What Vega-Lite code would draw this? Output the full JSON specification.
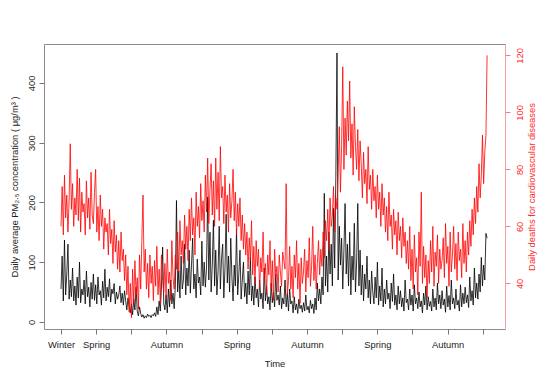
{
  "$schema": "https://vega.github.io/schema/vega-lite/v6.json",
  "width": 461,
  "height": 285,
  "autosize": "none",
  "padding": {"left": 44, "top": 44, "right": 45, "bottom": 56},
  "background": "white",
  "config": {
    "view": {"stroke": "#8c8c8c", "strokeWidth": 1},
    "font": "Liberation Sans",
    "axis": {"grid": false, "labelFont": "Liberation Sans", "titleFont": "Liberation Sans", "labelFontSize": 9.4, "titleFontSize": 9.4, "titleFontWeight": "normal", "tickSize": 5, "labelColor": "#222", "titleColor": "#222", "tickColor": "#777", "domainColor": "#8c8c8c"}
  },
  "data": {"values": [
{"d":0,"pm":55,"cvd":60},{"d":3,"pm":110,"cvd":74},{"d":6,"pm":35,"cvd":57},{"d":9,"pm":137,"cvd":78},{"d":12,"pm":45,"cvd":63},{"d":15,"pm":80,"cvd":71},{"d":18,"pm":130,"cvd":58},{"d":21,"pm":38,"cvd":69},{"d":24,"pm":70,"cvd":89},{"d":27,"pm":42,"cvd":66},
{"d":30,"pm":90,"cvd":75},{"d":33,"pm":35,"cvd":60},{"d":36,"pm":60,"cvd":70},{"d":39,"pm":28,"cvd":64},{"d":42,"pm":75,"cvd":80},{"d":45,"pm":40,"cvd":62},{"d":48,"pm":100,"cvd":77},{"d":51,"pm":32,"cvd":58},{"d":54,"pm":55,"cvd":72},{"d":57,"pm":45,"cvd":65},
{"d":60,"pm":70,"cvd":68},{"d":63,"pm":30,"cvd":57},{"d":66,"pm":85,"cvd":76},{"d":69,"pm":42,"cvd":63},{"d":72,"pm":58,"cvd":70},{"d":75,"pm":25,"cvd":59},{"d":78,"pm":66,"cvd":79},{"d":81,"pm":38,"cvd":64},{"d":84,"pm":80,"cvd":61},{"d":87,"pm":36,"cvd":72},
{"d":90,"pm":62,"cvd":80},{"d":93,"pm":30,"cvd":58},{"d":96,"pm":75,"cvd":67},{"d":99,"pm":45,"cvd":55},{"d":102,"pm":52,"cvd":71},{"d":105,"pm":28,"cvd":60},{"d":108,"pm":68,"cvd":66},{"d":111,"pm":40,"cvd":52},{"d":114,"pm":88,"cvd":63},{"d":117,"pm":35,"cvd":58},
{"d":120,"pm":58,"cvd":61},{"d":123,"pm":42,"cvd":50},{"d":126,"pm":72,"cvd":66},{"d":129,"pm":33,"cvd":54},{"d":132,"pm":55,"cvd":59},{"d":135,"pm":47,"cvd":47},{"d":138,"pm":64,"cvd":62},{"d":141,"pm":30,"cvd":51},{"d":144,"pm":50,"cvd":57},{"d":147,"pm":38,"cvd":45},
{"d":150,"pm":45,"cvd":55},{"d":153,"pm":60,"cvd":44},{"d":156,"pm":32,"cvd":58},{"d":159,"pm":48,"cvd":48},{"d":162,"pm":28,"cvd":52},{"d":165,"pm":52,"cvd":41},{"d":168,"pm":35,"cvd":50},{"d":171,"pm":20,"cvd":36},{"d":174,"pm":40,"cvd":46},{"d":177,"pm":25,"cvd":30},
{"d":180,"pm":15,"cvd":40},{"d":183,"pm":30,"cvd":28},{"d":186,"pm":12,"cvd":45},{"d":189,"pm":38,"cvd":33},{"d":192,"pm":20,"cvd":48},{"d":195,"pm":58,"cvd":36},{"d":198,"pm":18,"cvd":42},{"d":201,"pm":10,"cvd":31},{"d":204,"pm":25,"cvd":50},{"d":207,"pm":14,"cvd":38},
{"d":210,"pm":8,"cvd":55},{"d":213,"pm":12,"cvd":71},{"d":216,"pm":6,"cvd":44},{"d":219,"pm":10,"cvd":52},{"d":222,"pm":7,"cvd":38},{"d":225,"pm":13,"cvd":47},{"d":228,"pm":9,"cvd":35},{"d":231,"pm":11,"cvd":50},{"d":234,"pm":7,"cvd":40},{"d":237,"pm":12,"cvd":46},
{"d":240,"pm":10,"cvd":34},{"d":243,"pm":15,"cvd":48},{"d":246,"pm":9,"cvd":39},{"d":249,"pm":25,"cvd":53},{"d":252,"pm":12,"cvd":36},{"d":255,"pm":35,"cvd":45},{"d":258,"pm":18,"cvd":33},{"d":261,"pm":60,"cvd":50},{"d":264,"pm":125,"cvd":41},{"d":267,"pm":30,"cvd":37},
{"d":270,"pm":20,"cvd":47},{"d":273,"pm":45,"cvd":35},{"d":276,"pm":15,"cvd":52},{"d":279,"pm":55,"cvd":40},{"d":282,"pm":25,"cvd":44},{"d":285,"pm":70,"cvd":34},{"d":288,"pm":30,"cvd":55},{"d":291,"pm":48,"cvd":42},{"d":294,"pm":22,"cvd":38},{"d":297,"pm":60,"cvd":50},
{"d":300,"pm":203,"cvd":45},{"d":303,"pm":50,"cvd":58},{"d":306,"pm":85,"cvd":44},{"d":309,"pm":40,"cvd":62},{"d":312,"pm":110,"cvd":50},{"d":315,"pm":55,"cvd":55},{"d":318,"pm":70,"cvd":47},{"d":321,"pm":130,"cvd":64},{"d":324,"pm":45,"cvd":52},{"d":327,"pm":90,"cvd":60},
{"d":330,"pm":60,"cvd":48},{"d":333,"pm":120,"cvd":66},{"d":336,"pm":48,"cvd":55},{"d":339,"pm":95,"cvd":70},{"d":342,"pm":140,"cvd":57},{"d":345,"pm":55,"cvd":63},{"d":348,"pm":80,"cvd":50},{"d":351,"pm":40,"cvd":72},{"d":354,"pm":105,"cvd":60},{"d":357,"pm":65,"cvd":67},
{"d":360,"pm":75,"cvd":56},{"d":363,"pm":45,"cvd":75},{"d":366,"pm":135,"cvd":62},{"d":369,"pm":60,"cvd":69},{"d":372,"pm":100,"cvd":58},{"d":375,"pm":58,"cvd":78},{"d":378,"pm":90,"cvd":65},{"d":381,"pm":209,"cvd":84},{"d":384,"pm":70,"cvd":61},{"d":387,"pm":150,"cvd":73},
{"d":390,"pm":50,"cvd":82},{"d":393,"pm":95,"cvd":64},{"d":396,"pm":170,"cvd":76},{"d":399,"pm":60,"cvd":60},{"d":402,"pm":120,"cvd":84},{"d":405,"pm":45,"cvd":66},{"d":408,"pm":85,"cvd":79},{"d":411,"pm":160,"cvd":62},{"d":414,"pm":55,"cvd":88},{"d":417,"pm":105,"cvd":70},
{"d":420,"pm":130,"cvd":74},{"d":423,"pm":40,"cvd":61},{"d":426,"pm":90,"cvd":78},{"d":429,"pm":180,"cvd":65},{"d":432,"pm":65,"cvd":71},{"d":435,"pm":110,"cvd":58},{"d":438,"pm":50,"cvd":75},{"d":441,"pm":140,"cvd":63},{"d":444,"pm":75,"cvd":69},{"d":447,"pm":35,"cvd":80},
{"d":450,"pm":95,"cvd":62},{"d":453,"pm":60,"cvd":72},{"d":456,"pm":155,"cvd":57},{"d":459,"pm":45,"cvd":68},{"d":462,"pm":80,"cvd":60},{"d":465,"pm":120,"cvd":70},{"d":468,"pm":38,"cvd":55},{"d":471,"pm":70,"cvd":64},{"d":474,"pm":100,"cvd":52},{"d":477,"pm":42,"cvd":61},
{"d":480,"pm":65,"cvd":50},{"d":483,"pm":30,"cvd":58},{"d":486,"pm":85,"cvd":45},{"d":489,"pm":45,"cvd":56},{"d":492,"pm":108,"cvd":48},{"d":495,"pm":35,"cvd":62},{"d":498,"pm":60,"cvd":43},{"d":501,"pm":28,"cvd":53},{"d":504,"pm":75,"cvd":40},{"d":507,"pm":40,"cvd":55},
{"d":510,"pm":55,"cvd":46},{"d":513,"pm":25,"cvd":52},{"d":516,"pm":70,"cvd":38},{"d":519,"pm":38,"cvd":49},{"d":522,"pm":48,"cvd":44},{"d":525,"pm":22,"cvd":58},{"d":528,"pm":90,"cvd":41},{"d":531,"pm":35,"cvd":47},{"d":534,"pm":60,"cvd":36},{"d":537,"pm":30,"cvd":50},
{"d":540,"pm":42,"cvd":43},{"d":543,"pm":20,"cvd":55},{"d":546,"pm":65,"cvd":38},{"d":549,"pm":32,"cvd":48},{"d":552,"pm":50,"cvd":34},{"d":555,"pm":25,"cvd":52},{"d":558,"pm":80,"cvd":42},{"d":561,"pm":36,"cvd":46},{"d":564,"pm":45,"cvd":37},{"d":567,"pm":28,"cvd":50},
{"d":570,"pm":60,"cvd":44},{"d":573,"pm":22,"cvd":39},{"d":576,"pm":40,"cvd":51},{"d":579,"pm":30,"cvd":48},{"d":582,"pm":70,"cvd":45},{"d":585,"pm":25,"cvd":75},{"d":588,"pm":48,"cvd":36},{"d":591,"pm":18,"cvd":41},{"d":594,"pm":55,"cvd":53},{"d":597,"pm":30,"cvd":38},
{"d":600,"pm":35,"cvd":46},{"d":603,"pm":15,"cvd":35},{"d":606,"pm":42,"cvd":50},{"d":609,"pm":20,"cvd":42},{"d":612,"pm":30,"cvd":55},{"d":615,"pm":14,"cvd":38},{"d":618,"pm":38,"cvd":47},{"d":621,"pm":22,"cvd":33},{"d":624,"pm":28,"cvd":49},{"d":627,"pm":16,"cvd":40},
{"d":630,"pm":32,"cvd":44},{"d":633,"pm":18,"cvd":52},{"d":636,"pm":45,"cvd":37},{"d":639,"pm":20,"cvd":48},{"d":642,"pm":26,"cvd":42},{"d":645,"pm":15,"cvd":56},{"d":648,"pm":36,"cvd":39},{"d":651,"pm":22,"cvd":46},{"d":654,"pm":30,"cvd":60},{"d":657,"pm":14,"cvd":41},
{"d":660,"pm":40,"cvd":50},{"d":663,"pm":20,"cvd":38},{"d":666,"pm":65,"cvd":47},{"d":669,"pm":35,"cvd":55},{"d":672,"pm":55,"cvd":43},{"d":675,"pm":30,"cvd":52},{"d":678,"pm":75,"cvd":46},{"d":681,"pm":45,"cvd":58},{"d":684,"pm":215,"cvd":49},{"d":687,"pm":60,"cvd":62},
{"d":690,"pm":110,"cvd":55},{"d":693,"pm":50,"cvd":66},{"d":696,"pm":150,"cvd":52},{"d":699,"pm":80,"cvd":70},{"d":702,"pm":130,"cvd":60},{"d":705,"pm":60,"cvd":64},{"d":708,"pm":190,"cvd":74},{"d":711,"pm":90,"cvd":58},{"d":714,"pm":242,"cvd":70},{"d":717,"pm":450,"cvd":66},
{"d":720,"pm":70,"cvd":78},{"d":723,"pm":160,"cvd":95},{"d":726,"pm":95,"cvd":72},{"d":729,"pm":140,"cvd":88},{"d":732,"pm":55,"cvd":116},{"d":735,"pm":120,"cvd":80},{"d":738,"pm":198,"cvd":98},{"d":741,"pm":80,"cvd":85},{"d":744,"pm":130,"cvd":104},{"d":747,"pm":60,"cvd":90},
{"d":750,"pm":150,"cvd":111},{"d":753,"pm":45,"cvd":84},{"d":756,"pm":110,"cvd":96},{"d":759,"pm":70,"cvd":78},{"d":762,"pm":165,"cvd":102},{"d":765,"pm":50,"cvd":88},{"d":768,"pm":100,"cvd":80},{"d":771,"pm":198,"cvd":94},{"d":774,"pm":60,"cvd":76},{"d":777,"pm":120,"cvd":90},
{"d":780,"pm":45,"cvd":82},{"d":783,"pm":95,"cvd":70},{"d":786,"pm":35,"cvd":86},{"d":789,"pm":80,"cvd":75},{"d":792,"pm":55,"cvd":80},{"d":795,"pm":110,"cvd":68},{"d":798,"pm":40,"cvd":88},{"d":801,"pm":70,"cvd":73},{"d":804,"pm":30,"cvd":78},{"d":807,"pm":85,"cvd":66},
{"d":810,"pm":50,"cvd":80},{"d":813,"pm":30,"cvd":69},{"d":816,"pm":75,"cvd":74},{"d":819,"pm":40,"cvd":63},{"d":822,"pm":100,"cvd":78},{"d":825,"pm":28,"cvd":66},{"d":828,"pm":60,"cvd":72},{"d":831,"pm":35,"cvd":60},{"d":834,"pm":90,"cvd":75},{"d":837,"pm":25,"cvd":64},
{"d":840,"pm":55,"cvd":70},{"d":843,"pm":30,"cvd":58},{"d":846,"pm":70,"cvd":67},{"d":849,"pm":38,"cvd":55},{"d":852,"pm":48,"cvd":72},{"d":855,"pm":22,"cvd":60},{"d":858,"pm":65,"cvd":64},{"d":861,"pm":34,"cvd":52},{"d":864,"pm":80,"cvd":66},{"d":867,"pm":28,"cvd":57},
{"d":870,"pm":45,"cvd":62},{"d":873,"pm":20,"cvd":50},{"d":876,"pm":60,"cvd":65},{"d":879,"pm":30,"cvd":55},{"d":882,"pm":52,"cvd":60},{"d":885,"pm":25,"cvd":49},{"d":888,"pm":40,"cvd":63},{"d":891,"pm":18,"cvd":53},{"d":894,"pm":70,"cvd":58},{"d":897,"pm":32,"cvd":47},
{"d":900,"pm":38,"cvd":55},{"d":903,"pm":20,"cvd":45},{"d":906,"pm":55,"cvd":60},{"d":909,"pm":28,"cvd":41},{"d":912,"pm":45,"cvd":52},{"d":915,"pm":18,"cvd":38},{"d":918,"pm":62,"cvd":57},{"d":921,"pm":30,"cvd":44},{"d":924,"pm":40,"cvd":49},{"d":927,"pm":22,"cvd":36},
{"d":930,"pm":50,"cvd":58},{"d":933,"pm":25,"cvd":46},{"d":936,"pm":35,"cvd":72},{"d":939,"pm":15,"cvd":40},{"d":942,"pm":48,"cvd":53},{"d":945,"pm":28,"cvd":42},{"d":948,"pm":60,"cvd":50},{"d":951,"pm":20,"cvd":35},{"d":954,"pm":42,"cvd":48},{"d":957,"pm":26,"cvd":40},
{"d":960,"pm":34,"cvd":55},{"d":963,"pm":18,"cvd":44},{"d":966,"pm":55,"cvd":60},{"d":969,"pm":25,"cvd":39},{"d":972,"pm":40,"cvd":51},{"d":975,"pm":20,"cvd":46},{"d":978,"pm":65,"cvd":57},{"d":981,"pm":30,"cvd":40},{"d":984,"pm":45,"cvd":52},{"d":987,"pm":22,"cvd":45},
{"d":990,"pm":52,"cvd":48},{"d":993,"pm":28,"cvd":56},{"d":996,"pm":38,"cvd":42},{"d":999,"pm":16,"cvd":61},{"d":1002,"pm":60,"cvd":47},{"d":1005,"pm":25,"cvd":53},{"d":1008,"pm":44,"cvd":39},{"d":1011,"pm":20,"cvd":58},{"d":1014,"pm":70,"cvd":44},{"d":1017,"pm":30,"cvd":50},
{"d":1020,"pm":40,"cvd":60},{"d":1023,"pm":22,"cvd":45},{"d":1026,"pm":55,"cvd":54},{"d":1029,"pm":28,"cvd":41},{"d":1032,"pm":36,"cvd":58},{"d":1035,"pm":18,"cvd":48},{"d":1038,"pm":62,"cvd":52},{"d":1041,"pm":25,"cvd":42},{"d":1044,"pm":48,"cvd":61},{"d":1047,"pm":30,"cvd":47},
{"d":1050,"pm":58,"cvd":55},{"d":1053,"pm":32,"cvd":44},{"d":1056,"pm":45,"cvd":58},{"d":1059,"pm":24,"cvd":50},{"d":1062,"pm":75,"cvd":62},{"d":1065,"pm":35,"cvd":53},{"d":1068,"pm":52,"cvd":66},{"d":1071,"pm":28,"cvd":57},{"d":1074,"pm":90,"cvd":70},{"d":1077,"pm":40,"cvd":61},
{"d":1080,"pm":65,"cvd":74},{"d":1083,"pm":38,"cvd":65},{"d":1086,"pm":80,"cvd":82},{"d":1089,"pm":50,"cvd":70},{"d":1092,"pm":108,"cvd":78},{"d":1095,"pm":60,"cvd":92},{"d":1098,"pm":95,"cvd":75},{"d":1101,"pm":70,"cvd":86},{"d":1104,"pm":148,"cvd":92},{"d":1107,"pm":140,"cvd":120}
  ]},
  "encoding": {
    "x": {
      "field": "d",
      "type": "quantitative",
      "scale": {"domain": [-44.2, 1153.5], "nice": false, "zero": false},
      "axis": {
        "title": "Time",
        "values": [0, 91.3, 182.6, 273.9, 365.2, 456.5, 547.8, 639.1, 730.4, 821.7, 913, 1004.3, 1095.6],
        "labelExpr": "['Winter','Spring','','Autumn','','Spring','','Autumn','','Spring','','Autumn',''][round(datum.value/91.3)]",
        "domain": false,
        "labelPadding": 6,
        "titlePadding": 11,
        "labelFlush": false,
        "labelOverlap": false
      }
    }
  },
  "layer": [
    {
      "mark": {"type": "line", "color": "#000000", "strokeWidth": 0.8, "strokeJoin": "round"},
      "encoding": {
        "y": {
          "field": "pm",
          "type": "quantitative",
          "scale": {"domain": [-12, 465], "nice": false, "zero": false},
          "axis": {
            "orient": "left",
            "title": "Daily average PM₂.₅ concentration ( μg/m³ )",
            "values": [0, 100, 200, 300, 400],
            "labelAngle": 270,
            "labelAlign": "center",
            "labelBaseline": "bottom",
            "labelPadding": 3,
            "titlePadding": 7,
            "domain": false
          }
        }
      }
    },
    {
      "mark": {"type": "line", "color": "#ff0000", "strokeWidth": 0.8, "strokeJoin": "round"},
      "encoding": {
        "y": {
          "field": "cvd",
          "type": "quantitative",
          "scale": {"domain": [24, 124], "nice": false, "zero": false},
          "axis": {
            "orient": "right",
            "title": "Daily deaths for cardiovascular diseases",
            "values": [40, 60, 80, 100, 120],
            "labelAngle": 270,
            "labelAlign": "center",
            "labelBaseline": "top",
            "labelPadding": 5,
            "titlePadding": 4,
            "titleAngle": 270,
            "titleBaseline": "top",
            "labelColor": "#ff2a2a",
            "titleColor": "#ff2a2a",
            "tickColor": "#f08080",
            "domainColor": "#f4a0a0",
            "domain": true
          }
        }
      }
    }
  ],
  "resolve": {"scale": {"y": "independent"}}
}
